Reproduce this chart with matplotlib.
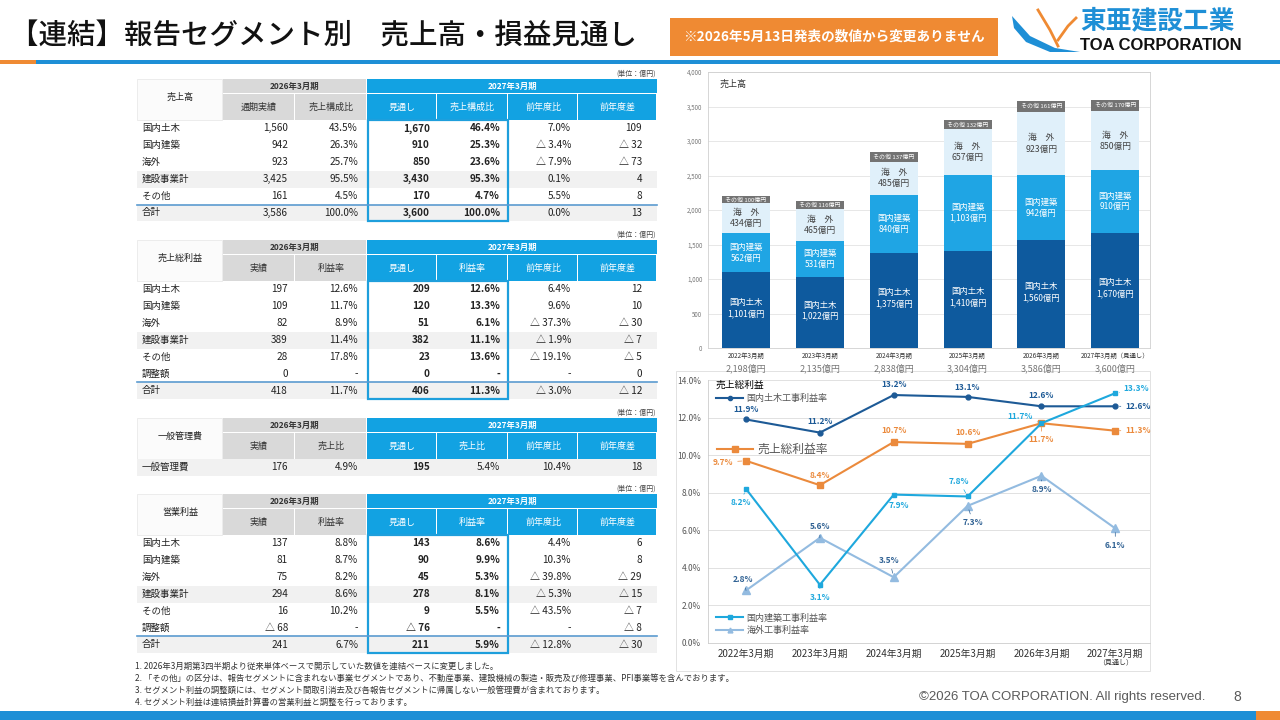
import numpy as np
import matplotlib
matplotlib.use('Agg')
import matplotlib.pyplot as plt
from matplotlib.patches import Rectangle, Polygon
from matplotlib.lines import Line2D

plt.rcParams['font.family'] = ['Noto Sans CJK JP', 'DejaVu Sans']

W, H = 1280, 720

# --- 売上高（棒グラフ） ---
years = ['2022年3月期', '2023年3月期', '2024年3月期', '2025年3月期', '2026年3月期', '2027年3月期']
bar_years = ['2022年3月期', '2023年3月期', '2024年3月期', '2025年3月期', '2026年3月期', '2027年3月期（見通し）']
civil = [1101, 1022, 1375, 1410, 1560, 1670]
building = [562, 531, 840, 1103, 942, 910]
overseas = [434, 465, 485, 657, 923, 850]
others = [100, 116, 137, 132, 161, 170]
totals = [2198, 2135, 2838, 3304, 3586, 3600]

# --- 利益率（折れ線） ---
civil_rate = [11.9, 11.2, 13.2, 13.1, 12.6, 12.6]
gross_rate = [9.7, 8.4, 10.7, 10.6, 11.7, 11.3]
building_rate = [8.2, 3.1, 7.9, 7.8, 11.7, 13.3]
overseas_rate = [2.8, 5.6, 3.5, 7.3, 8.9, 6.1]

# --- 表 ---
sales_subs = ['通期実績', '売上構成比', '見通し', '売上構成比', '前年度比', '前年度差']
sales_labels = ['国内土木', '国内建築', '海外', '建設事業計', 'その他', '合計']
sales_rows = [
    ['1,560', '43.5%', '1,670', '46.4%', '7.0%', '109'],
    ['942', '26.3%', '910', '25.3%', '△ 3.4%', '△ 32'],
    ['923', '25.7%', '850', '23.6%', '△ 7.9%', '△ 73'],
    ['3,425', '95.5%', '3,430', '95.3%', '0.1%', '4'],
    ['161', '4.5%', '170', '4.7%', '5.5%', '8'],
    ['3,586', '100.0%', '3,600', '100.0%', '0.0%', '13'],
]

profit_subs = ['実績', '利益率', '見通し', '利益率', '前年度比', '前年度差']
profit_labels = ['国内土木', '国内建築', '海外', '建設事業計', 'その他', '調整額', '合計']
gross_rows = [
    ['197', '12.6%', '209', '12.6%', '6.4%', '12'],
    ['109', '11.7%', '120', '13.3%', '9.6%', '10'],
    ['82', '8.9%', '51', '6.1%', '△ 37.3%', '△ 30'],
    ['389', '11.4%', '382', '11.1%', '△ 1.9%', '△ 7'],
    ['28', '17.8%', '23', '13.6%', '△ 19.1%', '△ 5'],
    ['0', '-', '0', '-', '-', '0'],
    ['418', '11.7%', '406', '11.3%', '△ 3.0%', '△ 12'],
]

sga_subs = ['実績', '売上比', '見通し', '売上比', '前年度比', '前年度差']
sga_labels = ['一般管理費']
sga_rows = [['176', '4.9%', '195', '5.4%', '10.4%', '18']]

op_rows = [
    ['137', '8.8%', '143', '8.6%', '4.4%', '6'],
    ['81', '8.7%', '90', '9.9%', '10.3%', '8'],
    ['75', '8.2%', '45', '5.3%', '△ 39.8%', '△ 29'],
    ['294', '8.6%', '278', '8.1%', '△ 5.3%', '△ 15'],
    ['16', '10.2%', '9', '5.5%', '△ 43.5%', '△ 7'],
    ['△ 68', '-', '△ 76', '-', '-', '△ 8'],
    ['241', '6.7%', '211', '5.9%', '△ 12.8%', '△ 30'],
]

notes = [
    '1. 2026年3月期第3四半期より従来単体ベースで開示していた数値を連結ベースに変更しました。',
    '2. 「その他」の区分は、報告セグメントに含まれない事業セグメントであり、不動産事業、建設機械の製造・販売及び修理事業、PFI事業等を含んでおります。',
    '3. セグメント利益の調整額には、セグメント間取引消去及び各報告セグメントに帰属しない一般管理費が含まれております。',
    '4. セグメント利益は連結損益計算書の営業利益と調整を行っております。',
]

# --- 色 ---
C_DARK = '#0e5a9e'
C_MID = '#1fa5e4'
C_LIGHT = '#e0f0fa'
C_OTHER = '#737373'
C_ORANGE = '#eb8a3c'
C_CIVIL = '#1d5a96'
C_BUILD = '#1ea8dd'
C_OVER = '#93bbe0'
BLUE_H = '#12a2e2'
GRAY_H = '#d9d9d9'


def px_axes(x0, y0, x1, y1):
    return fig.add_axes([x0 / W, 1 - y1 / H, (x1 - x0) / W, (y1 - y0) / H])


fig = plt.figure(figsize=(12.8, 7.2), dpi=100)
ov = fig.add_axes([0, 0, 1, 1])
ov.set_xlim(0, W)
ov.set_ylim(H, 0)
ov.axis('off')

# --- タイトル ---
ov.text(10, 36, '【連結】報告セグメント別　売上高・損益見通し', fontsize=20.5, color='#111',
        fontweight='medium', ha='left', va='center')
ov.add_patch(Rectangle((670, 18), 328, 38, fc='#ef8a33', ec='none'))
ov.text(834, 37, '※2026年5月13日発表の数値から変更ありません', fontsize=9.8, color='white',
        fontweight='bold', ha='center', va='center')

# ロゴ
ov.add_patch(Polygon([(1012, 16), (1030, 36), (1055, 48), (1080, 52), (1050, 52), (1026, 42), (1014, 28)],
                     closed=True, fc='#1e8fd6', ec='none'))
ov.plot([1038, 1050, 1058], [10, 30, 46], color='#ef8a33', lw=2)
ov.plot([1058, 1068, 1076], [40, 26, 18], color='#ef8a33', lw=2)
ov.text(1080, 21, '東亜建設工業', fontsize=18.5, fontweight='bold', color='#1e8fd6', ha='left', va='center')
ov.text(1080, 45, 'TOA CORPORATION', fontsize=12, fontweight='bold', color='#111',
        family=['Liberation Sans', 'DejaVu Sans'], ha='left', va='center')

# 区切り線
ov.add_patch(Rectangle((0, 60), 36, 4, fc='#ef8a33', ec='none'))
ov.add_patch(Rectangle((36, 60), W - 36, 4, fc='#1e8fd6', ec='none'))

# 下部バー
ov.add_patch(Rectangle((0, 711), 1256, 9, fc='#1e8fd6', ec='none'))
ov.add_patch(Rectangle((1256, 711), 24, 9, fc='#ef8a33', ec='none'))

# --- 表 ---
COLS = [137, 223, 295, 367, 437, 508, 578, 657]
RIGHT = [288, 358, 430, 500, 571, 642]


def draw_table(top, name, subs, labels, rows, shaded=(), total=None, box=True, bold=(2, 3)):
    h1, h2, rh = 15, 26, 16.9
    ov.text(656, top - 5, '(単位：億円)', fontsize=5, color='#444', ha='right', va='center')
    ov.add_patch(Rectangle((COLS[0], top), COLS[1] - COLS[0] - 1, h1 + h2, fc='#fbfbfb', ec='#e6e6e6', lw=0.5))
    ov.text((COLS[0] + COLS[1]) / 2, top + (h1 + h2) / 2 - 2, name, fontsize=6.5, color='#222',
            ha='center', va='center')
    ov.add_patch(Rectangle((COLS[1], top), COLS[3] - COLS[1] - 1, h1 - 1, fc=GRAY_H, ec='none'))
    ov.add_patch(Rectangle((COLS[3], top), COLS[7] - COLS[3], h1 - 1, fc=BLUE_H, ec='none'))
    ov.text((COLS[1] + COLS[3]) / 2, top + h1 / 2, '2026年3月期', fontsize=6, fontweight='bold',
            color='#333', ha='center', va='center')
    ov.text((COLS[3] + COLS[7]) / 2, top + h1 / 2, '2027年3月期', fontsize=6, fontweight='bold',
            color='white', ha='center', va='center')
    for i, s in enumerate(subs):
        x0, x1 = COLS[i + 1], COLS[i + 2]
        fc = GRAY_H if i < 2 else BLUE_H
        ov.add_patch(Rectangle((x0, top + h1), x1 - x0 - 1, h2, fc=fc, ec='none'))
        ov.text((x0 + x1) / 2, top + h1 + h2 / 2, s, fontsize=6.5,
                color='#333' if i < 2 else 'white', ha='center', va='center')
    y0 = top + h1 + h2
    for r, (lab, vals) in enumerate(zip(labels, rows)):
        yc = y0 + (r + 0.5) * rh
        if r in shaded:
            ov.add_patch(Rectangle((COLS[0], y0 + r * rh), COLS[7] - COLS[0], rh, fc='#f1f1f1', ec='none'))
        ov.text(142, yc, lab, fontsize=6.8, color='#222', ha='left', va='center')
        for j, v in enumerate(vals):
            ov.text(RIGHT[j], yc, v, fontsize=7.2, color='#222', ha='right', va='center',
                    fontweight='bold' if j in bold else 'normal')
    if total is not None:
        ov.plot([COLS[0], COLS[7]], [y0 + total * rh] * 2, color='#5b9bd0', lw=1.2)
    if box:
        ov.add_patch(Rectangle((COLS[3] + 1, y0), COLS[5] - COLS[3] - 1, len(rows) * rh,
                               fill=False, ec='#1e9fdc', lw=1.6))


draw_table(79, '売上高', sales_subs, sales_labels, sales_rows, shaded=(3, 5), total=5)
draw_table(240, '売上総利益', profit_subs, profit_labels, gross_rows, shaded=(3, 6), total=6)
draw_table(418, '一般管理費', sga_subs, sga_labels, sga_rows, shaded=(0,), box=False, bold=(2,))
draw_table(494, '営業利益', profit_subs, profit_labels, op_rows, shaded=(3, 6), total=6)

# --- 注記 ---
for i, s in enumerate(notes):
    ov.text(135, 666 + i * 12.3, s, fontsize=6, color='#333', ha='left', va='center')
ov.text(1205, 697, '©2026 TOA CORPORATION. All rights reserved.', fontsize=9.5, color='#5a5a5a',
        family=['Liberation Sans', 'DejaVu Sans'], ha='right', va='center')
ov.text(1237, 697, '8', fontsize=10, color='#5a5a5a', family=['Liberation Sans', 'DejaVu Sans'],
        ha='center', va='center')

# --- 棒グラフ ---
bx = px_axes(708, 72, 1150, 348)
x = np.arange(len(years))
bw = 0.65
b1 = np.array(civil)
b2 = b1 + np.array(building)
b3 = b2 + np.array(overseas)
bx.bar(x, civil, bw, color=C_DARK, zorder=3)
bx.bar(x, building, bw, bottom=b1, color=C_MID, zorder=3)
bx.bar(x, overseas, bw, bottom=b2, color=C_LIGHT, zorder=3)
bx.bar(x, others, bw, bottom=b3, color=C_OTHER, zorder=3)
for i in range(len(x)):
    bx.text(x[i], civil[i] / 2 + 30, f'国内土木\n{civil[i]:,}億円', fontsize=6, color='white',
            ha='center', va='center', linespacing=1.3, zorder=4)
    bx.text(x[i], b1[i] + building[i] / 2, f'国内建築\n{building[i]:,}億円', fontsize=6, color='white',
            ha='center', va='center', linespacing=1.3, zorder=4)
    bx.text(x[i], b2[i] + overseas[i] / 2, f'海　外\n{overseas[i]:,}億円', fontsize=6.3, color='#444',
            ha='center', va='center', linespacing=1.3, zorder=4)
    bx.text(x[i], b3[i] + others[i] / 2, f'その他 {others[i]}億円', fontsize=4.3, color='white',
            ha='center', va='center', zorder=4)
    bx.text(x[i], -0.03, bar_years[i], transform=bx.get_xaxis_transform(), fontsize=4.6,
            color='#333', ha='center', va='center')
    bx.text(x[i], -0.075, f'{totals[i]:,}億円', transform=bx.get_xaxis_transform(), fontsize=6.5,
            color='#777', ha='center', va='center')
bx.set_xlim(-0.515, 5.47)
bx.set_ylim(0, 4000)
bx.set_xticks([])
bx.set_yticks(np.arange(0, 4001, 500))
bx.set_yticklabels([f'{v:,}' for v in range(0, 4001, 500)])
bx.tick_params(axis='y', labelsize=4.5, colors='#777', length=0, pad=4)
bx.grid(axis='y', color='#e3e3e3', lw=0.6, zorder=0)
for sp in bx.spines.values():
    sp.set_color('#d0d0d0')
    sp.set_linewidth(0.6)
bx.text(0.027, 0.955, '売上高', transform=bx.transAxes, fontsize=6.5, color='#333', ha='left', va='center')

# --- 折れ線グラフ ---
ov.add_patch(Rectangle((676, 371), 474, 300, fill=False, ec='#dddddd', lw=0.6))
lx = px_axes(708, 380, 1150, 643)
lx.plot(x, civil_rate, color=C_CIVIL, lw=1.5, marker='o', ms=3.5, zorder=4)
lx.plot(x, gross_rate, color=C_ORANGE, lw=1.5, marker='s', ms=5, zorder=3)
lx.plot(x, building_rate, color=C_BUILD, lw=1.5, marker='s', ms=3.5, zorder=5)
lx.plot(x, overseas_rate, color=C_OVER, lw=1.5, marker='^', ms=5.5, zorder=2)


def annotate_series(vals, color, offsets):
    for xi, v, (dx, dy, ha) in zip(x, vals, offsets):
        lx.annotate(f'{v:.1f}%', (xi, v), xytext=(dx, dy), textcoords='offset points', ha=ha,
                    va='center', fontsize=6, fontweight='bold', color=color, zorder=6,
                    arrowprops=dict(arrowstyle='-', color=color, lw=0.5, shrinkA=1, shrinkB=3))


annotate_series(civil_rate, C_CIVIL,
                [(0, 7, 'center'), (0, 8, 'center'), (0, 7.5, 'center'), (0, 7, 'center'),
                 (0, 7.5, 'center'), (7, 0, 'left')])
annotate_series(gross_rate, C_ORANGE,
                [(-9, -1, 'right'), (0, 7, 'center'), (0, 8, 'center'), (0, 8, 'center'),
                 (0, -12, 'center'), (7, 0, 'left')])
annotate_series(building_rate, C_BUILD,
                [(-4, -10, 'center'), (0, -9, 'center'), (4, -8, 'center'), (-6, 11, 'center'),
                 (-6, 5, 'right'), (6, 3, 'left')])
annotate_series(overseas_rate, '#2f6193',
                [(-2, 8, 'center'), (0, 8, 'center'), (-3, 12, 'center'), (4, -12, 'center'),
                 (0, -10, 'center'), (0, -12, 'center')])

lx.set_xlim(-0.515, 5.47)
lx.set_ylim(0, 14)
lx.set_yticks(np.arange(0, 14.1, 2))
lx.set_yticklabels([f'{v:.1f}%' for v in np.arange(0, 14.1, 2)])
lx.set_xticks(x)
lx.set_xticklabels(years)
lx.tick_params(axis='y', labelsize=6, colors='#555', length=0, pad=5)
lx.tick_params(axis='x', labelsize=7, colors='#333', length=0, pad=4)
lx.text(x[-1], -0.075, '（見通し）', transform=lx.get_xaxis_transform(), fontsize=5, color='#333',
        ha='center', va='center')
lx.grid(axis='y', color='#dcdcdc', lw=0.6, zorder=0)
for side in ('top', 'right'):
    lx.spines[side].set_visible(False)
for side in ('left', 'bottom'):
    lx.spines[side].set_color('#cccccc')
    lx.spines[side].set_linewidth(0.6)

h_civil = Line2D([], [], color=C_CIVIL, lw=1.5, marker='o', ms=3)
h_gross = Line2D([], [], color=C_ORANGE, lw=1.5, marker='s', ms=4.5)
h_build = Line2D([], [], color=C_BUILD, lw=1.5, marker='s', ms=3)
h_over = Line2D([], [], color=C_OVER, lw=1.5, marker='^', ms=3.5)

leg1 = lx.legend([h_civil], ['国内土木工事利益率'], title='売上総利益', loc='upper left',
                 bbox_to_anchor=(0.01, 1.015), frameon=False, fontsize=6.5, title_fontsize=7,
                 alignment='left', handlelength=3, handletextpad=0.4, borderaxespad=0, labelcolor='#555')
lx.add_artist(leg1)
leg2 = lx.legend([h_gross], ['売上総利益率'], loc='center left', bbox_to_anchor=(0.01, 0.735),
                 frameon=False, fontsize=8.5, handlelength=3, handletextpad=0.4, borderaxespad=0,
                 labelcolor='#555')
lx.add_artist(leg2)
lx.legend([h_build, h_over], ['国内建築工事利益率', '海外工事利益率'], loc='center left',
          bbox_to_anchor=(0.01, 0.072), frameon=False, fontsize=6.5, handlelength=3,
          handletextpad=0.4, labelspacing=0.35, borderaxespad=0, labelcolor='#555')

fig.savefig('out.png', dpi=100)
